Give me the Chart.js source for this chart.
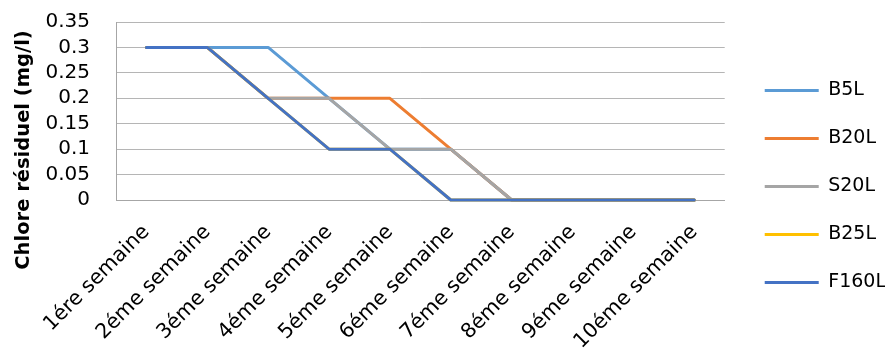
<!DOCTYPE html>
<html>
<head>
<meta charset="utf-8">
<script src="https://cdn.jsdelivr.net/npm/chart.js@4.4.1/dist/chart.umd.min.js"></script>
<style>
  body { margin: 0; background: #fff; }
  #cadre { width: 887px; height: 351px; }
</style>
</head>
<body>
<div id="cadre"><canvas id="graphiqueChlore"></canvas></div>
<script>
// Semaines de mesure (axe des x)
const semaines = ['1ére semaine', '2éme semaine', '3éme semaine', '4éme semaine', '5éme semaine',
  '6éme semaine', '7éme semaine', '8éme semaine', '9éme semaine', '10éme semaine'];

// Chlore résiduel (mg/l) par réservoir
const b5l = [0.3, 0.3, 0.3, 0.2, 0.1, 0.1, 0, 0, 0, 0];
const b20l = [0.3, 0.3, 0.2, 0.2, 0.2, 0.1, 0, 0, 0, 0];
const s20l = [0.3, 0.3, 0.2, 0.2, 0.1, 0.1, 0, 0, 0, 0];
const b25l = [0.3, 0.3, 0.2, 0.1, 0.1, 0, 0, 0, 0, 0];
const f160l = [0.3, 0.3, 0.2, 0.1, 0.1, 0, 0, 0, 0, 0];

// Graduations de l'axe des y
const graduationsY = [0, 0.05, 0.1, 0.15, 0.2, 0.25, 0.3, 0.35];

const police = '"DejaVu Sans"';

// Titre de l'axe y dessiné à la main (plus long que la zone du graphique)
const titreAxeY = {
  id: 'titreAxeY',
  afterDraw(chart) {
    const ctx = chart.ctx;
    ctx.save();
    ctx.translate(24, 150);
    ctx.rotate(-Math.PI / 2);
    ctx.font = 'bold 19.5px ' + police;
    ctx.fillStyle = '#000';
    ctx.textAlign = 'center';
    ctx.textBaseline = 'middle';
    ctx.fillText('Chlore résiduel (mg/l)', 0, 0);
    ctx.restore();
  }
};

// Décale la légende un peu vers la droite
const decalageLegende = {
  id: 'decalageLegende',
  afterLayout(chart) {
    chart.legend.left += 11;
  }
};

function serie(nom, valeurs, couleur, ordre) {
  return {
    label: nom,
    data: valeurs,
    borderColor: couleur,
    backgroundColor: couleur,
    borderWidth: 3,
    borderCapStyle: 'round',
    borderJoinStyle: 'round',
    pointRadius: 0,
    tension: 0,
    clip: false,
    order: ordre // la dernière série est dessinée par-dessus
  };
}

new Chart(document.getElementById('graphiqueChlore'), {
  type: 'line',
  data: {
    labels: semaines,
    datasets: [
      serie('B5L', b5l, '#5B9BD5', 5),
      serie('B20L', b20l, '#ED7D31', 4),
      serie('S20L', s20l, '#A5A5A5', 3),
      serie('B25L', b25l, '#FFC000', 2),
      serie('F160L', f160l, '#4472C4', 1)
    ]
  },
  options: {
    responsive: true,
    maintainAspectRatio: false,
    animation: false,
    layout: { padding: { top: 22, right: 2, bottom: 0, left: 0 } },
    plugins: {
      tooltip: { enabled: false },
      legend: {
        position: 'right',
        labels: {
          font: { family: police, size: 19 },
          color: '#000',
          usePointStyle: true,
          pointStyle: 'line',
          pointStyleWidth: 54,
          padding: 29,
          sort: (a, b) => a.datasetIndex - b.datasetIndex
        }
      }
    },
    scales: {
      x: {
        offset: true,
        grid: { display: false, drawTicks: false },
        border: { display: true, color: '#a6a6a6', width: 1 },
        ticks: {
          font: { family: police, size: 20.5 },
          color: '#000',
          minRotation: 45,
          maxRotation: 45,
          autoSkip: false,
          padding: 20
        },
        afterFit: (s) => { s.height = 151; }
      },
      y: {
        min: 0,
        max: 0.35,
        grid: { color: '#b5b5b5', lineWidth: 1, drawTicks: true, tickLength: 23, tickColor: 'rgba(0,0,0,0)' },
        border: { display: true, color: '#a6a6a6', width: 1 },
        afterBuildTicks: (s) => { s.ticks = graduationsY.map(v => ({ value: v })); },
        ticks: {
          font: { family: police, size: 20 },
          color: '#000',
          padding: 3,
          autoSkip: false,
          callback: (v) => String(v)
        },
        afterFit: (s) => { s.width = 116; }
      }
    }
  },
  plugins: [titreAxeY, decalageLegende]
});
</script>
</body>
</html>
